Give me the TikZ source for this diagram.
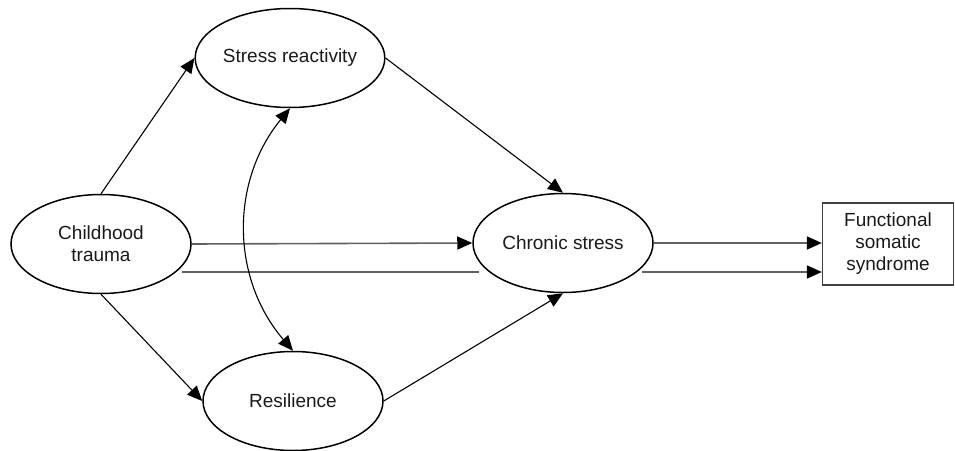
\documentclass[tikz,border=0pt]{standalone}
\usepackage{fontspec}
\setmainfont{Liberation Sans}
\usetikzlibrary{shapes.geometric,arrows.meta}
\begin{document}
\begin{tikzpicture}[x=1pt,y=-1pt,
  txt/.style={font=\fontsize{19}{22}\selectfont, align=center, text=black!90},
  oval/.style={txt, ellipse, draw=black, line width=1.5pt, minimum width=180pt, minimum height=99pt, inner sep=0pt},
  box/.style={txt, rectangle, draw=black!75, line width=1.3pt, minimum width=131pt, minimum height=82pt, inner sep=0pt},
  tip/.style={-{Triangle[length=15pt,width=13pt,color=black]}},
  path/.style={tip, line width=1.1pt, black},
  hline/.style={line width=1.6pt, black!62},
  both/.style={{Triangle[length=15pt,width=13pt]}-{Triangle[length=15pt,width=13pt]}, line width=1.1pt, black}
]
\useasboundingbox (0,0) rectangle (955,450);

\node[oval] (ct)  at (101,244) {Childhood\\trauma};
\node[oval] (sr)  at (290,58)  {Stress reactivity};
\node[oval] (res) at (293,401) {Resilience};
\node[oval] (cs)  at (563,243) {Chronic stress};
\node[box]  (fss) at (888,244) {Functional\\somatic\\syndrome};

\coordinate (d1) at (182,272);
\coordinate (d2) at (479,272);
\coordinate (d3) at (642,272);

\draw[path] (ct.north) -- (sr.west);
\draw[path] (ct.south) -- (res.west);
\draw[path] (sr.east) -- (cs.north);
\draw[path] (res.east) -- (cs.south);
\draw[hline, tip] (ct.east) -- (cs.west);
\draw[hline, tip] (cs.east) -- (fss.west |- cs.east);
\draw[hline] (d1) -- (d2);
\draw[hline, tip] (d3) -- (fss.west |- d3);
\draw[both] (sr.south) to[bend right=40] (res.north);
\end{tikzpicture}
\end{document}
